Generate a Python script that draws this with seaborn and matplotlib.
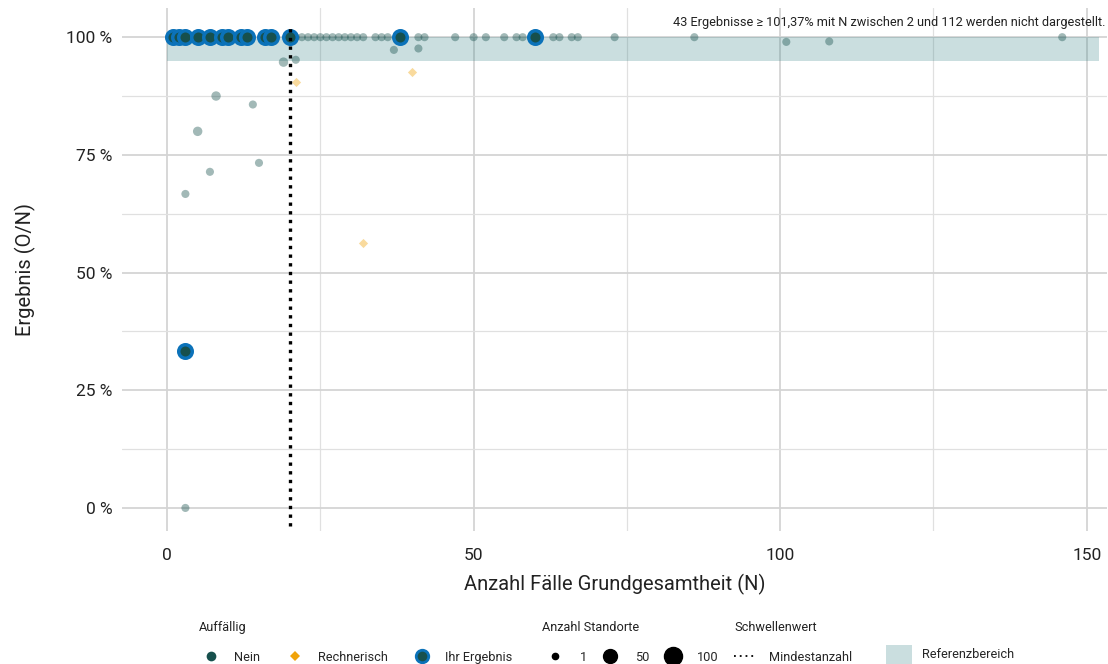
import matplotlib
matplotlib.use("Agg")
import matplotlib.pyplot as plt
from matplotlib.lines import Line2D
from matplotlib.patches import Patch
import seaborn as sns
import pandas as pd

# ---------------- data ----------------
# "Nein" (not conspicuous) results: N, result in %, number of sites
nein_n = [21, 22, 23, 24, 25, 26, 27, 28, 29, 30, 31, 32, 34, 35, 36, 41, 42,
          47, 50, 52, 55, 57, 58, 63, 64, 66, 67, 73, 86, 146,
          101, 108, 37, 41, 19, 21, 8, 14, 5, 15, 7, 3, 3]
nein_pct = [100, 100, 100, 100, 100, 100, 100, 100, 100, 100, 100, 100, 100, 100, 100, 100, 100,
            100, 100, 100, 100, 100, 100, 100, 100, 100, 100, 100, 100, 100,
            99.0, 99.1, 97.3, 97.6, 94.7, 95.2, 87.5, 85.7, 80.0, 73.3, 71.4, 66.7, 0]
nein_standorte = [1] * 34 + [2, 1, 2, 1, 2, 1, 1, 1, 1]

# "Rechnerisch" results
rech_n = [21, 40, 32]
rech_pct = [90.5, 92.5, 56.3]

# "Ihr Ergebnis" results
ihr_n = [1, 2, 3, 5, 7, 9, 10, 12, 13, 16, 17, 20, 38, 60, 3]
ihr_pct = [100, 100, 100, 100, 100, 100, 100, 100, 100, 100, 100, 100, 100, 100, 33.3]

# reference range and threshold
ref_low, ref_high = 95, 100
ref_x = [0, 152]
mindestanzahl = 20

x_ticks = [0, 50, 100, 150]
y_ticks = [0, 25, 50, 75, 100]
y_ticklabels = ["0 %", "25 %", "50 %", "75 %", "100 %"]
note = "43 Ergebnisse \u2265 101,37% mit N zwischen 2 und 112 werden nicht dargestellt."

# ---------------- style ----------------
sns.set_theme(style="white")
plt.rcParams["font.family"] = ["Roboto", "DejaVu Sans"]

TEAL = "#17504d"
BLUE = "#0b72b9"
ORANGE = "#f0a30a"

fig = plt.figure(figsize=(11.08, 6.64), dpi=100)
W, H = 1108, 664
left, right, top, bottom = 122, 1107, 8, 531
ax = fig.add_axes([left / W, 1 - bottom / H, (right - left) / W, (bottom - top) / H])

ax.set_xlim(-7.34, 153.3)
ax.set_ylim(-4.9, 106.2)

# grid
for v in [0, 50, 100, 150]:
    ax.axvline(v, color="#d4d4d4", lw=1.3, zorder=0)
for v in [25, 75, 125]:
    ax.axvline(v, color="#e0e0e0", lw=0.9, zorder=0)
for v in y_ticks:
    ax.axhline(v, color="#d4d4d4", lw=1.3, zorder=0)
for v in [12.5, 37.5, 62.5, 87.5]:
    ax.axhline(v, color="#e0e0e0", lw=0.9, zorder=0)

# reference band
ax.fill_between(ref_x, ref_low, ref_high, color="#2e7d83", alpha=0.25, lw=0, zorder=1)

df_nein = pd.DataFrame({"N": nein_n, "pct": nein_pct, "standorte": nein_standorte})
df_rech = pd.DataFrame({"N": rech_n, "pct": rech_pct})
df_ihr = pd.DataFrame({"N": ihr_n, "pct": ihr_pct})

sns.scatterplot(data=df_nein, x="N", y="pct", size="standorte", sizes=(34, 46),
                color=TEAL, alpha=0.4, linewidth=0, legend=False, ax=ax, zorder=3)
sns.scatterplot(data=df_rech, x="N", y="pct", marker="D", s=22,
                color=ORANGE, alpha=0.4, linewidth=0, legend=False, ax=ax, zorder=3)
sns.scatterplot(data=df_ihr, x="N", y="pct", s=95, color=TEAL,
                edgecolor=BLUE, linewidth=2.5, legend=False, ax=ax, zorder=4)

# threshold line
ax.axvline(mindestanzahl, ymin=0.01, ymax=0.97, color="black", lw=2.4,
           linestyle=(0, (1.0, 1.6)), zorder=5)

# axes cosmetics
sns.despine(ax=ax, left=True, bottom=True, right=True, top=True)
ax.set_xticks(x_ticks)
ax.set_xticklabels([str(t) for t in x_ticks], fontsize=12.5, color="#222222")
ax.set_yticks(y_ticks)
ax.set_yticklabels(y_ticklabels, fontsize=12.5, color="#222222")
ax.tick_params(axis="y", length=0, pad=7)
ax.tick_params(axis="x", length=0, pad=12)
ax.set_xlabel("Anzahl F\u00e4lle Grundgesamtheit (N)", fontsize=14.5, color="#222222", labelpad=8)
ax.set_ylabel("Ergebnis (O/N)", fontsize=14.5, color="#222222", labelpad=22)

ax.text(0.9985, 0.985, note, transform=ax.transAxes, ha="right", va="top",
        fontsize=9.2, color="#222222")

# ---------------- legends ----------------
leg_kw = dict(frameon=False, fontsize=9.2, title_fontsize=9.2, handletextpad=0.8,
              columnspacing=1.7, borderpad=0, handlelength=2.0, alignment="left",
              labelspacing=1.3)
anchor_y = 1 - 670 / H

h1 = [Line2D([], [], marker="o", ls="", color=TEAL, markersize=7, markeredgewidth=0),
      Line2D([], [], marker="D", ls="", color=ORANGE, markersize=5.5, markeredgewidth=0),
      Line2D([], [], marker="o", ls="", markerfacecolor=TEAL, markeredgecolor=BLUE,
             markersize=9, markeredgewidth=2)]
l1 = fig.legend(h1, ["Nein", "Rechnerisch", "Ihr Ergebnis"], title="Auff\u00e4llig",
                loc="lower left", bbox_to_anchor=(192 / W, anchor_y), ncol=3, **leg_kw)

h2 = [Line2D([], [], marker="o", ls="", color="black", markersize=4.5),
      Line2D([], [], marker="o", ls="", color="black", markersize=10),
      Line2D([], [], marker="o", ls="", color="black", markersize=13)]
l2 = fig.legend(h2, ["1", "50", "100"], title="Anzahl Standorte",
                loc="lower left", bbox_to_anchor=(536 / W, anchor_y), ncol=3,
                **{**leg_kw, "columnspacing": 0.87, "handletextpad": 0.9})

h3 = [Line2D([], [], ls=(0, (1.0, 2.2)), color="black", lw=1.3)]
l3 = fig.legend(h3, ["Mindestanzahl"], title="Schwellenwert",
                loc="lower left", bbox_to_anchor=(728 / W, anchor_y), ncol=1,
                **{**leg_kw, "handlelength": 1.5, "handletextpad": 1.17})

h4 = [Patch(facecolor="#2e7d83", alpha=0.25, edgecolor="none")]
l4 = fig.legend(h4, ["Referenzbereich"], loc="lower left",
                bbox_to_anchor=(880 / W, anchor_y), ncol=1,
                **{**leg_kw, "handlelength": 2.0, "handleheight": 1.9,
                   "handletextpad": 0.8})

for lg in (l1, l2, l3):
    lg.get_title().set_color("#222222")

fig.savefig("out.png", dpi=100)
